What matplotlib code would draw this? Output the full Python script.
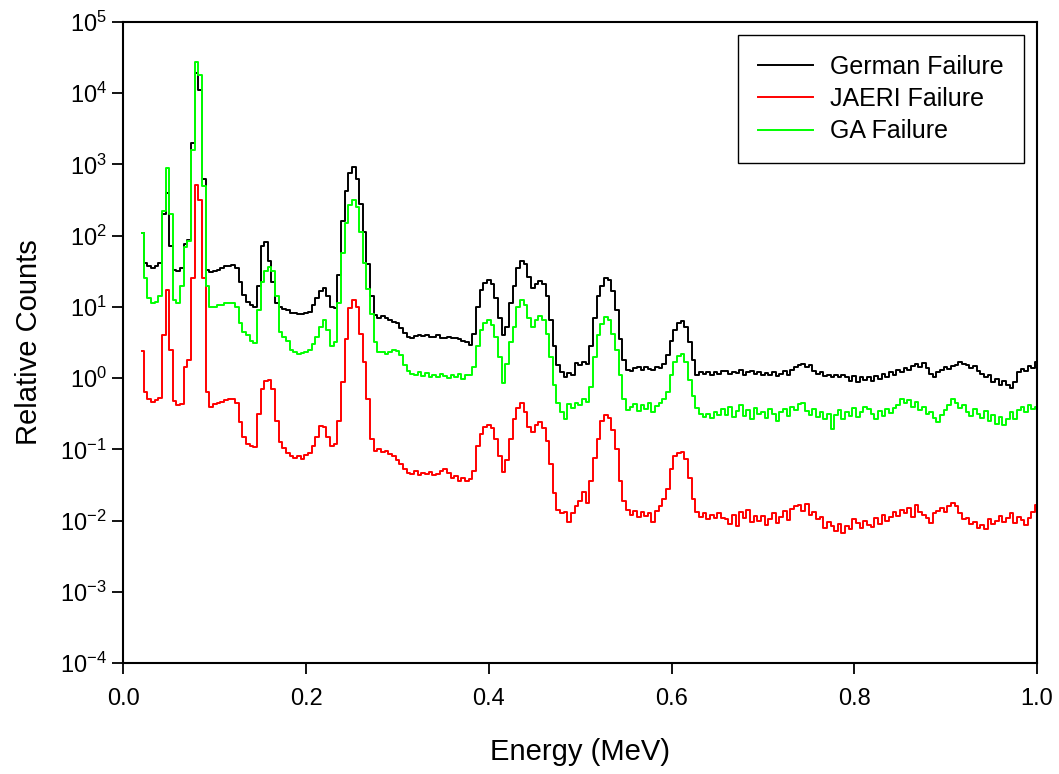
import numpy as np
import matplotlib
matplotlib.use("Agg")
import matplotlib.pyplot as plt
from matplotlib.ticker import FixedLocator, FormatStrFormatter, NullLocator

# ---------------- data (log10 of relative counts, one value per 0.004 MeV channel) -------------
energy_start = 0.020
energy_step = 0.004
series_labels = ["German Failure", "JAERI Failure", "GA Failure"]
series_colors = ["#000000", "#ff0000", "#00ff00"]

german_log10 = [
    2.04, 1.62, 1.57, 1.55, 1.58, 1.62, 2.30, 2.60, 1.85, 1.52,
    1.50, 1.55, 1.88, 1.94, 3.30, 4.28, 4.05, 2.80, 1.52, 1.49,
    1.50, 1.52, 1.55, 1.57, 1.58, 1.59, 1.55, 1.35, 1.17, 1.07,
    1.03, 1.00, 1.30, 1.85, 1.91, 1.65, 1.35, 1.06, 1.00, 0.97,
    0.95, 0.92, 0.91, 0.90, 0.90, 0.91, 0.93, 1.02, 1.12, 1.22,
    1.26, 1.15, 1.00, 0.99, 1.45, 2.20, 2.62, 2.88, 2.96, 2.80,
    2.45, 2.05, 1.60, 1.15, 0.88, 0.84, 0.87, 0.85, 0.82, 0.79,
    0.77, 0.70, 0.64, 0.58, 0.56, 0.59, 0.60, 0.59, 0.60, 0.58,
    0.58, 0.60, 0.56, 0.57, 0.58, 0.56, 0.57, 0.55, 0.52, 0.50,
    0.46, 0.62, 1.00, 1.24, 1.34, 1.38, 1.32, 1.13, 0.85, 0.60,
    0.72, 1.05, 1.30, 1.55, 1.65, 1.60, 1.42, 1.27, 1.32, 1.37,
    1.32, 1.15, 0.82, 0.45, 0.18, 0.08, 0.02, 0.07, 0.04, 0.21,
    0.18, 0.23, 0.20, 0.45, 0.85, 1.15, 1.30, 1.40, 1.38, 1.22,
    0.95, 0.55, 0.25, 0.11, 0.10, 0.14, 0.16, 0.12, 0.15, 0.13,
    0.12, 0.16, 0.14, 0.20, 0.33, 0.52, 0.68, 0.78, 0.80, 0.72,
    0.50, 0.25, 0.04, 0.08, 0.06, 0.09, 0.05, 0.08, 0.06, 0.10,
    0.10, 0.06, 0.09, 0.07, 0.11, 0.05, 0.08, 0.10, 0.06, 0.09,
    0.04, 0.07, 0.05, 0.08, 0.03, 0.06, 0.10, 0.05, 0.12, 0.16,
    0.18, 0.20, 0.15, 0.19, 0.10, 0.06, 0.09, 0.03, 0.05, 0.02,
    0.04, 0.01, 0.05, 0.02, -0.04, 0.03, -0.05, 0.01, -0.03, 0.02,
    -0.04, 0.03, -0.01, 0.06, 0.02, 0.08, 0.05, 0.11, 0.09, 0.14,
    0.12, 0.17, 0.20, 0.16, 0.21, 0.14, 0.06, 0.02, 0.08, 0.12,
    0.15, 0.13, 0.17, 0.19, 0.22, 0.20, 0.18, 0.14, 0.17, 0.10,
    0.06, 0.02, 0.05, -0.06, -0.01, -0.09, -0.04, -0.10, -0.14, -0.05,
    0.08, 0.13, 0.10, 0.17, 0.14, 0.23,
]

jaeri_log10 = [
    0.38, -0.20, -0.30, -0.33, -0.31, -0.28, 0.60, 1.24, 0.40, -0.32,
    -0.38, -0.36, 0.15, 0.25, 1.40, 2.71, 2.50, 1.40, -0.20, -0.40,
    -0.37, -0.35, -0.33, -0.31, -0.30, -0.29, -0.35, -0.62, -0.82, -0.92,
    -0.95, -0.97, -0.50, -0.15, -0.04, -0.03, -0.15, -0.60, -0.90, -0.98,
    -1.05, -1.10, -1.12, -1.10, -1.13, -1.08, -1.05, -0.95, -0.82, -0.67,
    -0.68, -0.82, -0.96, -0.93, -0.60, -0.05, 0.55, 0.98, 1.10, 1.00,
    0.62, 0.22, -0.30, -0.85, -1.02, -1.00, -1.04, -1.02, -1.06, -1.10,
    -1.15, -1.20, -1.28, -1.33, -1.35, -1.31, -1.36, -1.33, -1.35, -1.32,
    -1.36, -1.34, -1.30, -1.27, -1.33, -1.40, -1.37, -1.44, -1.40, -1.45,
    -1.42, -1.30, -0.95, -0.78, -0.68, -0.66, -0.70, -0.85, -1.10, -1.32,
    -1.15, -0.85, -0.57, -0.42, -0.35, -0.48, -0.68, -0.76, -0.66, -0.62,
    -0.70, -0.88, -1.20, -1.62, -1.85, -1.90, -1.88, -2.02, -1.90, -1.80,
    -1.72, -1.60, -1.75, -1.45, -1.12, -0.85, -0.60, -0.52, -0.56, -0.73,
    -1.00, -1.45, -1.72, -1.85, -1.92, -1.86, -1.95, -1.88, -1.93, -1.89,
    -2.02, -1.86, -1.80, -1.70, -1.55, -1.28, -1.10, -1.05, -1.04, -1.13,
    -1.40, -1.70, -1.88, -1.95, -1.90, -1.98, -1.92, -1.97, -1.90, -1.96,
    -1.98, -2.05, -1.92, -2.08, -1.88, -1.97, -1.85, -2.02, -1.94, -2.00,
    -1.93, -2.06, -1.98, -1.90, -2.03, -1.95, -1.87, -1.99, -1.84, -1.80,
    -1.78, -1.86, -1.77, -1.92, -1.88, -1.98, -1.95, -2.10, -2.02, -2.08,
    -2.15, -2.05, -2.18, -2.08, -2.12, -1.98, -2.04, -2.10, -2.00, -2.06,
    -2.09, -1.97, -2.05, -1.92, -2.00, -1.95, -1.88, -1.93, -1.85, -1.90,
    -1.83, -1.95, -1.78, -1.88, -1.92, -1.97, -2.04, -1.90, -1.86, -1.83,
    -1.88, -1.80, -1.76, -1.79, -1.90, -1.98, -1.96, -2.05, -2.02, -2.10,
    -2.06, -2.12, -1.98, -2.05, -2.00, -1.94, -2.02, -1.96, -1.90, -2.03,
    -1.95, -1.99, -2.06, -1.97, -1.88, -1.78,
]

ga_log10 = [
    2.04, 1.40, 1.12, 1.05, 1.07, 1.15, 2.35, 2.95, 2.30, 1.10,
    1.05, 1.30, 1.84, 1.92, 3.20, 4.44, 4.25, 2.70, 1.30, 1.00,
    1.00, 1.02, 1.03, 1.05, 1.06, 1.06, 1.00, 0.78, 0.65, 0.60,
    0.52, 0.49, 0.95, 1.35, 1.50, 1.56, 1.50, 1.15, 0.65, 0.58,
    0.52, 0.40, 0.36, 0.34, 0.35, 0.36, 0.40, 0.48, 0.58, 0.72,
    0.81, 0.67, 0.45, 0.50, 1.05, 1.75, 2.18, 2.43, 2.50, 2.40,
    2.05, 1.62, 1.25, 0.90, 0.50, 0.36, 0.37, 0.34, 0.36, 0.39,
    0.38, 0.32, 0.18, 0.10, 0.06, 0.04, 0.08, 0.03, 0.07, 0.02,
    0.05, 0.01, 0.06, 0.03, 0.00, 0.05, 0.02, 0.06, -0.01, 0.04,
    0.05, 0.15, 0.45, 0.67, 0.78, 0.81, 0.75, 0.58, 0.30, -0.07,
    0.20, 0.50, 0.72, 1.00, 1.10, 1.02, 0.85, 0.72, 0.82, 0.87,
    0.82, 0.62, 0.30, -0.10, -0.35, -0.48, -0.58, -0.36, -0.42, -0.35,
    -0.38, -0.30, -0.33, -0.12, 0.30, 0.60, 0.76, 0.86, 0.82, 0.62,
    0.40, 0.05, -0.30, -0.45, -0.40, -0.36, -0.46, -0.38, -0.43, -0.35,
    -0.48, -0.39, -0.35, -0.30, -0.20, 0.05, 0.22, 0.31, 0.34, 0.22,
    -0.02, -0.25, -0.42, -0.50, -0.54, -0.50, -0.56, -0.47, -0.52, -0.44,
    -0.52, -0.41, -0.55, -0.46, -0.38, -0.53, -0.45, -0.58, -0.42, -0.50,
    -0.47, -0.56, -0.43, -0.51, -0.60, -0.48, -0.44, -0.53, -0.40, -0.45,
    -0.37, -0.35, -0.46, -0.52, -0.43, -0.55, -0.48, -0.58, -0.50, -0.71,
    -0.52, -0.45, -0.57, -0.48, -0.53, -0.42, -0.55, -0.47, -0.40, -0.44,
    -0.51, -0.58, -0.46, -0.53, -0.44, -0.49, -0.42, -0.38, -0.30, -0.35,
    -0.31, -0.40, -0.33, -0.45, -0.41, -0.50, -0.47, -0.56, -0.62, -0.52,
    -0.45, -0.38, -0.30, -0.35, -0.42, -0.38, -0.47, -0.53, -0.44, -0.50,
    -0.56, -0.46, -0.60, -0.52, -0.64, -0.55, -0.66, -0.58, -0.48, -0.57,
    -0.45, -0.40, -0.48, -0.38, -0.44, -0.40,
]

x_ticks = [0.0, 0.2, 0.4, 0.6, 0.8, 1.0]
y_ticks = [1e-4, 1e-3, 1e-2, 1e-1, 1e0, 1e1, 1e2, 1e3, 1e4, 1e5]

# ---------------- plotting -------------
plt.rcParams["font.family"] = ["Liberation Sans", "DejaVu Sans"]
plt.rcParams["mathtext.fontset"] = "custom"
plt.rcParams["mathtext.rm"] = "Liberation Sans"
plt.rcParams["mathtext.it"] = "Liberation Sans"
plt.rcParams["axes.unicode_minus"] = False

series_log10 = [german_log10, jaeri_log10, ga_log10]
n = len(german_log10)
energy = energy_start + energy_step * np.arange(n)

fig = plt.figure(figsize=(10.59, 7.74), dpi=100)
ax = fig.add_axes([0.1166, 0.1434, 0.8626, 0.8282])

for vals, lab, col in zip(series_log10, series_labels, series_colors):
    ax.step(energy, np.power(10.0, np.asarray(vals)), where="mid",
            color=col, lw=1.4, label=lab)

ax.set_yscale("log")
ax.set_xlim(0.0, 1.0)
ax.set_ylim(1e-4, 1e5)
ax.xaxis.set_major_locator(FixedLocator(x_ticks))
ax.xaxis.set_major_formatter(FormatStrFormatter("%.1f"))
ax.xaxis.set_minor_locator(NullLocator())
ax.yaxis.set_major_locator(FixedLocator(y_ticks))
ax.yaxis.set_minor_locator(NullLocator())

for sp in ax.spines.values():
    sp.set_linewidth(1.5)
ax.tick_params(axis="both", which="major", direction="out", length=8, width=1.3,
               top=False, right=False)
ax.tick_params(axis="x", labelsize=17, pad=10)
ax.tick_params(axis="y", labelsize=17, pad=4)

ax.set_xlabel("Energy (MeV)", fontsize=21, labelpad=20)
ax.set_ylabel("Relative Counts", fontsize=21, labelpad=12)

leg = ax.legend(loc="upper right", bbox_to_anchor=(0.9858, 0.9797), fontsize=18,
                frameon=True, fancybox=False, framealpha=1, edgecolor="black",
                handlelength=2.2, handletextpad=0.7, labelspacing=0.33,
                borderpad=0.8, borderaxespad=0.0)
leg.get_frame().set_linewidth(1.0)

fig.savefig("out.png", dpi=100)
